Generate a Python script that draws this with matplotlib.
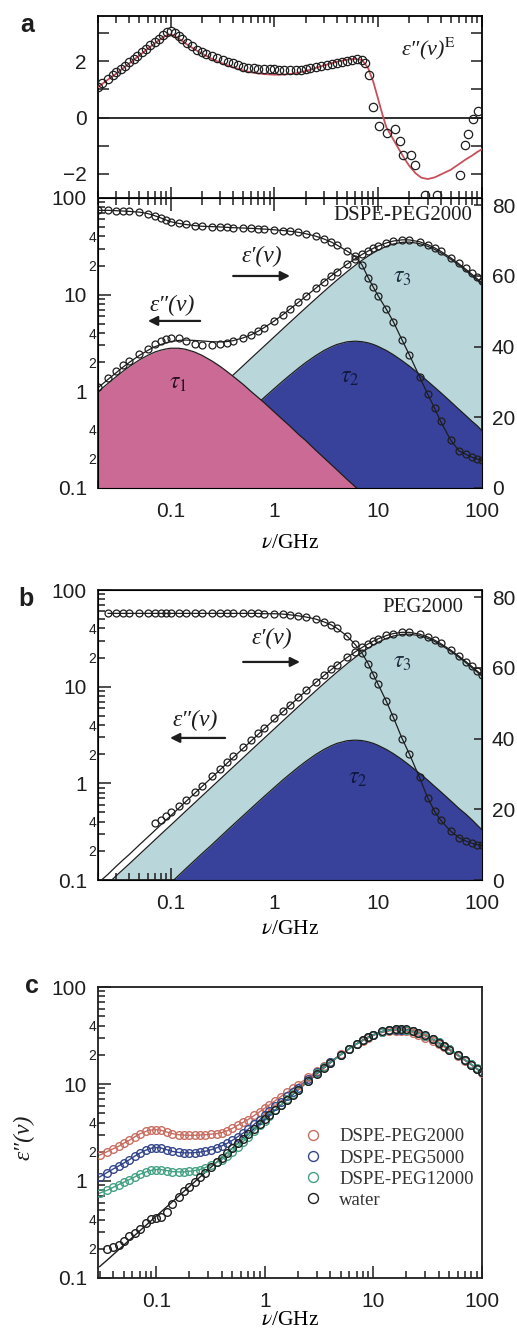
import numpy as np
import matplotlib
matplotlib.use('Agg')
import matplotlib.pyplot as plt
from matplotlib.ticker import FixedLocator, FuncFormatter, NullFormatter, NullLocator

plt.rcParams['font.family'] = ['Liberation Sans', 'DejaVu Sans']
plt.rcParams['mathtext.fontset'] = 'stix'
SERIF = ['Liberation Serif', 'DejaVu Serif']

# ---------------- datos ----------------
# a (arriba): exceso de perdida dielectrica
nu_e = [0.02, 0.022, 0.025, 0.028, 0.03, 0.033, 0.036, 0.04, 0.044, 0.048,
        0.053, 0.058, 0.064, 0.07, 0.077, 0.085, 0.093, 0.1, 0.11, 0.12,
        0.13, 0.145, 0.16, 0.18, 0.2, 0.22, 0.25, 0.28, 0.32, 0.36,
        0.4, 0.45, 0.5, 0.56, 0.63, 0.7, 0.8, 0.9, 1.0, 1.1,
        1.25, 1.4, 1.6, 1.8, 2.0, 2.2, 2.5, 2.8, 3.2, 3.6,
        4.0, 4.5, 5.0, 5.6, 6.3, 7.0, 7.5, 8.1, 9.0, 10.1,
        12.1, 14.6, 16.2, 17.4, 20.9, 22.7, 28.3, 36.6, 61, 68.7,
        73.8, 82.6, 92.2]
eps_e = [1.10, 1.22, 1.38, 1.52, 1.61, 1.73, 1.84, 1.97, 2.09, 2.20,
         2.33, 2.44, 2.57, 2.68, 2.80, 2.93, 3.05, 3.06, 3.00, 2.90,
         2.80, 2.66, 2.52, 2.40, 2.32, 2.25, 2.18, 2.12, 2.05, 1.98,
         1.92, 1.86, 1.80, 1.76, 1.74, 1.73, 1.73, 1.72, 1.71, 1.70,
         1.69, 1.68, 1.68, 1.70, 1.72, 1.74, 1.78, 1.82, 1.86, 1.90,
         1.94, 1.98, 2.02, 2.04, 2.06, 2.04, 1.92, 1.50, 0.36, -0.30,
         -0.54, -0.42, -0.84, -1.31, -1.31, -1.68, -2.73, -2.73, -2.04, -0.96,
         -0.60, -0.06, 0.24]
nu_efit = [0.02, 0.025, 0.03, 0.04, 0.05, 0.06, 0.07, 0.08, 0.09, 0.1,
           0.12, 0.14, 0.17, 0.2, 0.25, 0.3, 0.4, 0.5, 0.6, 0.8,
           1.0, 1.3, 1.6, 2.0, 2.5, 3.0, 4.0, 5.0, 6.0, 7.0,
           8.0, 9.0, 10, 11, 12, 14, 16, 18, 20, 23,
           26, 30, 35, 40, 50, 60, 70, 80, 90, 100]
eps_efit = [1.08, 1.35, 1.56, 1.92, 2.20, 2.43, 2.62, 2.78, 2.90, 2.95,
            2.80, 2.62, 2.42, 2.27, 2.08, 1.95, 1.78, 1.67, 1.60, 1.54,
            1.52, 1.53, 1.57, 1.65, 1.76, 1.85, 1.98, 2.05, 2.08, 2.04,
            1.75, 1.25, 0.65, 0.10, -0.35, -0.78, -1.15, -1.47, -1.72, -1.98,
            -2.13, -2.18, -2.12, -2.02, -1.85, -1.65, -1.48, -1.35, -1.22, -1.12]

# a y b: frecuencias comunes
nu_ab = [0.02, 0.025, 0.03, 0.035, 0.04, 0.05, 0.06, 0.07, 0.08, 0.09,
         0.1, 0.12, 0.14, 0.17, 0.2, 0.25, 0.3, 0.35, 0.4, 0.5,
         0.6, 0.7, 0.8, 1.0, 1.2, 1.4, 1.7, 2.0, 2.5, 3.0,
         3.5, 4.0, 5.0, 6.0, 7.0, 8.0, 9.0, 10, 12, 14,
         17, 20, 25, 30, 35, 40, 50, 60, 70, 80,
         90, 100]

# a: DSPE-PEG2000
tau1_a = [0.99, 1.21, 1.42, 1.62, 1.80, 2.11, 2.35, 2.54, 2.66, 2.74,
          2.79, 2.79, 2.72, 2.55, 2.36, 2.06, 1.81, 1.60, 1.43, 1.18,
          0.99, 0.86, 0.76, 0.61, 0.51, 0.44, 0.36, 0.31, 0.246, 0.205,
          0.176, 0.154, 0.123, 0.103, 0.088, 0.077, 0.068, 0.062, 0.051, 0.044,
          0.036, 0.031, 0.025, 0.021, 0.018, 0.015, 0.012, 0.010, 0.009, 0.008,
          0.007, 0.006]
tau2_a = [0.022, 0.028, 0.033, 0.039, 0.044, 0.055, 0.066, 0.077, 0.088, 0.099,
          0.110, 0.132, 0.154, 0.187, 0.220, 0.274, 0.329, 0.384, 0.438, 0.546,
          0.653, 0.760, 0.865, 1.07, 1.27, 1.46, 1.73, 1.98, 2.34, 2.64,
          2.87, 3.05, 3.25, 3.30, 3.26, 3.17, 3.05, 2.91, 2.64, 2.39,
          2.07, 1.82, 1.50, 1.27, 1.10, 0.97, 0.78, 0.65, 0.56, 0.49,
          0.44, 0.39]
tau3_a = [0.074, 0.092, 0.111, 0.129, 0.147, 0.184, 0.221, 0.258, 0.295, 0.332,
          0.368, 0.442, 0.516, 0.626, 0.737, 0.921, 1.105, 1.289, 1.473, 1.84,
          2.21, 2.575, 2.94, 3.67, 4.40, 5.13, 6.21, 7.29, 9.05, 10.78,
          12.47, 14.11, 17.23, 20.10, 22.71, 25.03, 27.08, 28.85, 31.60, 33.43,
          34.78, 34.95, 33.72, 31.64, 29.35, 27.13, 23.24, 20.15, 17.70, 15.74,
          14.15, 12.84]
fit_a = [1.09, 1.33, 1.56, 1.79, 1.99, 2.35, 2.64, 2.88, 3.04, 3.17,
         3.27, 3.36, 3.39, 3.36, 3.32, 3.26, 3.24, 3.27, 3.34, 3.57,
         3.85, 4.20, 4.57, 5.35, 6.18, 7.03, 8.30, 9.58, 11.64, 13.63,
         15.52, 17.31, 20.60, 23.50, 26.06, 28.28, 30.20, 31.82, 34.29, 35.86,
         36.89, 36.80, 35.25, 32.93, 30.47, 28.12, 24.03, 20.81, 18.27, 16.24,
         14.60, 13.24]
eps2_a = [1.12, 1.38, 1.62, 1.85, 2.05, 2.42, 2.75, 3.05, 3.30, 3.50,
          3.60, 3.55, 3.30, 3.08, 3.00, 3.02, 3.08, 3.16, 3.28, 3.55,
          3.85, 4.20, 4.57, 5.35, 6.18, 7.03, 8.30, 9.58, 11.6, 13.6,
          15.5, 17.3, 20.6, 23.5, 26.1, 28.3, 30.2, 31.8, 34.3, 35.9,
          36.9, 36.8, 35.3, 32.9, 30.5, 28.1, 24.0, 21.2, 18.8, 16.8,
          15.2, 13.9]
eps1_a = [78.5, 78.5, 78.4, 78.3, 78.2, 78.0, 77.6, 77.0, 76.4, 75.8,
          75.3, 74.8, 74.5, 74.2, 74.0, 73.9, 73.8, 73.7, 73.6, 73.5,
          73.4, 73.3, 73.2, 73.0, 72.8, 72.6, 72.3, 71.9, 71.2, 70.4,
          69.6, 68.7, 67.0, 65.5, 63.0, 59.5, 56.7, 54.3, 50.5, 47.0,
          41.8, 37.6, 31.5, 26.5, 22.5, 18.8, 13.5, 10.5, 9.5, 8.7,
          8.2, 7.9]

# b: PEG2000
tau2_b = [0.019, 0.023, 0.028, 0.033, 0.037, 0.047, 0.056, 0.065, 0.075, 0.084,
          0.093, 0.112, 0.131, 0.159, 0.187, 0.232, 0.279, 0.326, 0.372, 0.463,
          0.554, 0.645, 0.734, 0.908, 1.08, 1.24, 1.47, 1.68, 1.99, 2.24,
          2.44, 2.59, 2.76, 2.80, 2.77, 2.69, 2.59, 2.47, 2.24, 2.03,
          1.76, 1.54, 1.27, 1.08, 0.93, 0.82, 0.66, 0.55, 0.48, 0.42,
          0.37, 0.33]
tau3_b = [0.074, 0.092, 0.111, 0.129, 0.147, 0.184, 0.221, 0.258, 0.295, 0.332,
          0.368, 0.442, 0.516, 0.626, 0.737, 0.921, 1.105, 1.289, 1.473, 1.84,
          2.21, 2.575, 2.94, 3.67, 4.40, 5.13, 6.21, 7.29, 9.05, 10.78,
          12.47, 14.11, 17.23, 20.10, 22.71, 25.03, 27.08, 28.85, 31.60, 33.43,
          34.78, 34.95, 33.72, 31.64, 29.35, 27.13, 23.24, 20.15, 17.70, 15.74,
          14.15, 12.84]
fit_b = [0.093, 0.115, 0.139, 0.162, 0.184, 0.231, 0.277, 0.323, 0.370, 0.416,
         0.461, 0.554, 0.647, 0.785, 0.924, 1.153, 1.384, 1.615, 1.845, 2.30,
         2.76, 3.22, 3.68, 4.58, 5.48, 6.37, 7.68, 8.97, 11.04, 13.02,
         14.91, 16.70, 19.99, 22.90, 25.48, 27.72, 29.67, 31.32, 33.84, 35.46,
         36.54, 36.49, 34.99, 32.72, 30.28, 27.95, 23.90, 20.70, 18.18, 16.16,
         14.52, 13.17]
nu_b2 = nu_ab[7:]
eps2_b = [0.39, 0.42, 0.46, 0.51, 0.59, 0.68, 0.81, 0.95, 1.18, 1.42,
          1.66, 1.90, 2.37, 2.84, 3.31, 3.78, 4.70, 5.62, 6.52, 7.85,
          9.15, 11.2, 13.2, 15.1, 16.9, 20.2, 23.1, 25.7, 27.9, 29.8,
          31.4, 33.9, 35.5, 36.6, 36.5, 35.0, 32.7, 30.3, 28.0, 23.9,
          20.7, 18.2, 16.2, 14.5, 13.2]
nu_b1 = nu_ab[1:]
eps1_b = [75.4, 75.4, 75.4, 75.4, 75.4, 75.4, 75.4, 75.4, 75.4, 75.4,
          75.4, 75.4, 75.4, 75.4, 75.4, 75.4, 75.4, 75.4, 75.4, 75.4,
          75.4, 75.3, 75.3, 75.2, 75.0, 74.7, 74.4, 73.8, 73.0, 72.2,
          71.2, 69.0, 66.6, 64.1, 61.2, 58.0, 55.3, 50.5, 46.0, 40.0,
          35.6, 29.0, 23.2, 19.4, 16.9, 13.8, 12.0, 11.0, 10.4, 10.0,
          9.8]

# c: comparacion
nu_c = [0.03, 0.035, 0.04, 0.045, 0.05, 0.056, 0.063, 0.07, 0.08, 0.09,
        0.1, 0.11, 0.125, 0.14, 0.16, 0.18, 0.2, 0.225, 0.25, 0.28,
        0.32, 0.36, 0.4, 0.45, 0.5, 0.56, 0.63, 0.7, 0.8, 0.9,
        1.0, 1.1, 1.25, 1.4, 1.6, 1.8, 2.0, 2.5, 3.0, 3.5,
        4.0, 5.0, 6.0, 7.0, 8.0, 9.0, 10, 12, 14, 16,
        18, 20, 23, 26, 30, 35, 40, 45, 50, 60,
        70, 80, 90, 100]
peg2000_c = [1.85, 2.00, 2.15, 2.28, 2.45, 2.62, 2.85, 3.05, 3.25, 3.36,
             3.38, 3.34, 3.20, 3.08, 3.00, 2.97, 2.96, 2.96, 2.98, 3.00,
             3.04, 3.08, 3.15, 3.30, 3.48, 3.75, 4.02, 4.30, 4.75, 5.20,
             5.65, 6.10, 6.75, 7.40, 8.20, 9.00, 9.80, 11.7, 13.6, 15.3,
             17.0, 20.2, 23.2, 25.9, 28.0, 30.0, 31.8, 34.0, 35.2, 35.6,
             35.5, 35.0, 33.8, 32.0, 29.8, 27.8, 25.8, 24.0, 22.3, 19.5,
             17.4, 15.6, 14.2, 13.0]
peg5000_c = [1.10, 1.22, 1.33, 1.43, 1.53, 1.65, 1.80, 1.93, 2.08, 2.18,
             2.21, 2.19, 2.10, 2.02, 1.97, 1.95, 1.95, 1.96, 1.98, 2.02,
             2.10, 2.20, 2.30, 2.45, 2.62, 2.85, 3.12, 3.42, 3.85, 4.30,
             4.78, 5.25, 5.95, 6.60, 7.45, 8.30, 9.15, 11.2, 13.2, 15.0,
             16.8, 20.1, 23.2, 25.9, 28.2, 30.3, 32.0, 34.4, 35.8, 36.4,
             36.4, 36.0, 34.9, 33.5, 31.5, 29.0, 26.8, 24.8, 23.0, 20.0,
             17.7, 15.9, 14.4, 13.2]
peg12000_c = [0.75, 0.80, 0.86, 0.92, 0.97, 1.03, 1.10, 1.17, 1.24, 1.29,
              1.31, 1.31, 1.28, 1.25, 1.24, 1.24, 1.26, 1.28, 1.31, 1.37,
              1.46, 1.56, 1.66, 1.82, 2.00, 2.25, 2.55, 2.85, 3.30, 3.75,
              4.20, 4.65, 5.35, 6.05, 6.95, 7.85, 8.70, 10.8, 12.9, 14.8,
              16.6, 20.0, 23.2, 25.9, 28.2, 30.4, 32.1, 34.5, 35.9, 36.5,
              36.5, 36.1, 35.0, 33.6, 31.6, 29.1, 26.9, 24.9, 23.1, 20.1,
              17.8, 16.0, 14.5, 13.3]
nu_w = nu_c[1:]
water_c = [0.20, 0.21, 0.22, 0.24, 0.27, 0.29, 0.32, 0.37, 0.41,
           0.42, 0.43, 0.48, 0.58, 0.68, 0.78, 0.87, 0.98, 1.09, 1.22,
           1.39, 1.57, 1.74, 1.96, 2.18, 2.44, 2.73, 3.04, 3.47, 3.91,
           4.34, 4.77, 5.41, 6.05, 6.90, 7.75, 8.59, 10.65, 12.66, 14.62,
           16.50, 20.03, 23.22, 26.05, 28.51, 30.60, 32.34, 34.86, 36.31, 36.93,
           36.94, 36.51, 35.37, 33.89, 31.74, 29.08, 26.64, 24.46, 22.55, 19.9,
           17.6, 15.8, 14.3, 13.2]
water_fit = [0.131, 0.152, 0.174, 0.196, 0.218, 0.244, 0.274, 0.305, 0.348, 0.392,
             0.435, 0.479, 0.544, 0.609, 0.696, 0.783, 0.870, 0.979, 1.088, 1.219,
             1.393, 1.567, 1.741, 1.958, 2.175, 2.436, 2.734, 3.042, 3.474, 3.907,
             4.338, 4.768, 5.412, 6.053, 6.904, 7.748, 8.587, 10.65, 12.66, 14.62,
             16.50, 20.03, 23.22, 26.05, 28.51, 30.60, 32.34, 34.86, 36.31, 36.93,
             36.94, 36.51, 35.37, 33.89, 31.74, 29.08, 26.64, 24.46, 22.55, 19.9,
             17.6, 15.8, 14.3, 13.2]
series_c = ['DSPE-PEG2000', 'DSPE-PEG5000', 'DSPE-PEG12000', 'water']

# ---------------- estilo ----------------
PINK = '#cb6b95'
LIGHT = '#b9d6db'
DARK = '#38429a'
INK = '#1e1e1e'
col_c = ['#c86e62', '#34468c', '#44a282', INK]

EPS1 = '\u03b5\u2032(\u03bd)'
EPS2 = '\u03b5\u2033(\u03bd)'
ital = dict(family=SERIF, style='italic', color=INK)

fig = plt.figure(figsize=(5.17, 13.34), dpi=100)

minor_pos = [m * 10.0 ** e for e in range(-2, 2) for m in range(2, 10)]


def minor_lab(v, pos):
    m = int(round(v / 10 ** np.floor(np.log10(v) + 1e-9)))
    return str(m) if m in (2, 4) else ''


def log_ejes(ax, xmin, top=False):
    ax.set_xscale('log')
    ax.set_yscale('log')
    ax.set_xlim(xmin, 100)
    ax.set_ylim(0.1, 100)
    ax.xaxis.set_major_locator(FixedLocator([0.1, 1, 10, 100]))
    ax.xaxis.set_minor_locator(FixedLocator(minor_pos))
    ax.xaxis.set_major_formatter(FuncFormatter(lambda v, p: '%g' % v))
    ax.xaxis.set_minor_formatter(NullFormatter())
    ax.yaxis.set_major_locator(FixedLocator([0.1, 1, 10, 100]))
    ax.yaxis.set_minor_locator(FixedLocator(minor_pos))
    ax.yaxis.set_major_formatter(FuncFormatter(lambda v, p: '%g' % v))
    ax.yaxis.set_minor_formatter(FuncFormatter(minor_lab))
    ax.tick_params(which='both', direction='in', top=top, right=False,
                   colors=INK, width=1.1)
    ax.tick_params(which='major', length=9, labelsize=15)
    ax.tick_params(which='minor', length=5)
    ax.tick_params(axis='x', which='major', pad=10)
    ax.tick_params(axis='y', which='major', pad=8)
    ax.tick_params(axis='y', which='minor', labelsize=10, pad=1.5)
    for s in ax.spines.values():
        s.set_linewidth(1.3)
        s.set_color(INK)


def eje_derecho(ax):
    ax2 = ax.twinx()
    ax2.set_ylim(0, 82)
    ax2.set_yticks([0, 20, 40, 60, 80])
    ax2.yaxis.set_minor_locator(NullLocator())
    ax2.tick_params(direction='in', length=6, width=1.1, labelsize=15, pad=7,
                    colors=INK)
    return ax2


def flecha(ax, x0, x1, y):
    ax.annotate('', xy=(x1, y), xytext=(x0, y), xycoords='axes fraction',
                arrowprops=dict(arrowstyle='-|>', color=INK, lw=1.6,
                                mutation_scale=14, shrinkA=0, shrinkB=0))


mk = dict(ls='none', marker='o', mfc='none', mec=INK, ms=5, mew=0.9)
L, W = 0.1896, 0.7427

# ---------------- a (arriba) ----------------
ax0 = fig.add_axes([L, 0.8516, W, 0.1364])
ax0.set_xscale('log')
ax0.set_xlim(0.02, 100)
ax0.set_ylim(-2.85, 3.6)
ax0.axhline(0, color=INK, lw=1.3)
ax0.plot(nu_efit, eps_efit, color='#c8505a', lw=1.3, zorder=3)
ax0.plot(nu_e, eps_e, zorder=4, **dict(mk, ms=6))
ax0.set_yticks([-2, -1, 0, 1, 2, 3])
ax0.set_yticklabels(['\u22122', '', '0', '', '2', ''])
ax0.xaxis.set_major_locator(FixedLocator([0.1, 1, 10, 100]))
ax0.xaxis.set_minor_locator(FixedLocator(minor_pos))
ax0.xaxis.set_major_formatter(NullFormatter())
ax0.xaxis.set_minor_formatter(NullFormatter())
ax0.tick_params(which='both', direction='in', top=True, right=True,
                colors=INK, width=1.1, labelsize=15, pad=8)
ax0.tick_params(which='major', length=8)
ax0.tick_params(which='minor', length=5)
for s in ax0.spines.values():
    s.set_linewidth(1.3)
ax0.text(0.86, 0.82, EPS2 + r'$^{\mathrm{E}}$', transform=ax0.transAxes,
         ha='center', va='center', fontsize=16, **ital)

# ---------------- a (abajo) ----------------
ax1 = fig.add_axes([L, 0.6342, W, 0.2174])
log_ejes(ax1, 0.02, top=True)
ax1.fill_between(nu_ab, 1e-3, tau3_a, color=LIGHT, lw=0, zorder=1)
ax1.plot(nu_ab, tau3_a, color=INK, lw=0.9, zorder=2)
ax1.fill_between(nu_ab, 1e-3, tau2_a, color=DARK, lw=0, zorder=3)
ax1.plot(nu_ab, tau2_a, color=INK, lw=0.9, zorder=4)
ax1.fill_between(nu_ab, 1e-3, tau1_a, color=PINK, lw=0, zorder=5)
ax1.plot(nu_ab, tau1_a, color=INK, lw=0.9, zorder=6)
ax1.plot(nu_ab, fit_a, color=INK, lw=0.9, zorder=7)
ax1.plot(nu_ab, eps2_a, zorder=8, **mk)
ax1b = eje_derecho(ax1)
ax1b.plot(nu_ab, eps1_a, color=INK, lw=0.9)
ax1b.plot(nu_ab, eps1_a, **mk)
ax1.set_xlabel(r'$\nu$/GHz', family=SERIF, fontsize=15.5)
ax1.xaxis.set_label_coords(0.5, -0.16)
ax1.text(0.974, 0.94, 'DSPE-PEG2000', transform=ax1.transAxes, ha='right',
         va='center', family=SERIF, fontsize=15, color=INK, zorder=10)
ax1.text(0.427, 0.797, EPS1, transform=ax1.transAxes,
         ha='center', va='center', fontsize=17, zorder=10, **ital)
flecha(ax1, 0.352, 0.50, 0.731)
ax1.text(0.193, 0.631, EPS2, transform=ax1.transAxes,
         ha='center', va='center', fontsize=17, zorder=10, **ital)
flecha(ax1, 0.266, 0.130, 0.576)
ax1.text(0.208, 0.362, r'$\tau_1$', transform=ax1.transAxes, ha='center',
         va='center', fontsize=17, color='#2a1020', zorder=10)
ax1.text(0.656, 0.383, r'$\tau_2$', transform=ax1.transAxes, ha='center',
         va='center', fontsize=17, color='#101840', zorder=10)
ax1.text(0.792, 0.728, r'$\tau_3$', transform=ax1.transAxes, ha='center',
         va='center', fontsize=17, color='#203040', zorder=10)

# ---------------- b ----------------
ax2 = fig.add_axes([L, 0.3403, W, 0.2174])
log_ejes(ax2, 0.02)
ax2.fill_between(nu_ab, 1e-3, tau3_b, color=LIGHT, lw=0, zorder=1)
ax2.plot(nu_ab, tau3_b, color=INK, lw=0.9, zorder=2)
ax2.fill_between(nu_ab, 1e-3, tau2_b, color=DARK, lw=0, zorder=3)
ax2.plot(nu_ab, tau2_b, color=INK, lw=0.9, zorder=4)
ax2.plot(nu_ab, fit_b, color=INK, lw=0.9, zorder=7)
ax2.plot(nu_b2, eps2_b, zorder=8, **mk)
ax2b = eje_derecho(ax2)
ax2b.plot(nu_b1, eps1_b, color=INK, lw=0.9)
ax2b.plot(nu_b1, eps1_b, **mk)
ax2.set_xlabel(r'$\nu$/GHz', family=SERIF, fontsize=15.5)
ax2.xaxis.set_label_coords(0.5, -0.138)
ax2.text(0.951, 0.94, 'PEG2000', transform=ax2.transAxes, ha='right',
         va='center', family=SERIF, fontsize=15, color=INK, zorder=10)
ax2.text(0.453, 0.834, EPS1, transform=ax2.transAxes,
         ha='center', va='center', fontsize=17, zorder=10, **ital)
flecha(ax2, 0.378, 0.526, 0.752)
ax2.text(0.253, 0.552, EPS2, transform=ax2.transAxes,
         ha='center', va='center', fontsize=17, zorder=10, **ital)
flecha(ax2, 0.331, 0.1875, 0.49)
ax2.text(0.794, 0.752, r'$\tau_3$', transform=ax2.transAxes, ha='center',
         va='center', fontsize=17, color='#203040', zorder=10)
ax2.text(0.677, 0.352, r'$\tau_2$', transform=ax2.transAxes, ha='center',
         va='center', fontsize=17, color='#101840', zorder=10)

# ---------------- c ----------------
ax3 = fig.add_axes([L, 0.0420, W, 0.2181])
log_ejes(ax3, 0.029)
ax3.plot(nu_c, water_fit, color=INK, lw=1.0, zorder=2)
handles = []
for vals, nus, col in [(peg2000_c, nu_c, col_c[0]), (peg5000_c, nu_c, col_c[1]),
                       (peg12000_c, nu_c, col_c[2]), (water_c, nu_w, col_c[3])]:
    if vals is not water_c:
        ax3.plot(nus, vals, color=col, lw=1.0, zorder=3)
    h, = ax3.plot(nus, vals, ls='none', marker='o', mfc='none', mec=col,
                  ms=5.5, mew=1.0, zorder=4)
    handles.append(h)
ax3.legend(handles, series_c, loc='upper left', bbox_to_anchor=(0.535, 0.515),
           frameon=False, prop={'family': SERIF, 'size': 13.5},
           handlelength=1.0, handletextpad=0.9, labelspacing=0.22,
           borderaxespad=0, borderpad=0, markerscale=1.3, labelcolor='#333333')
ax3.set_xlabel(r'$\nu$/GHz', family=SERIF, fontsize=15.5)
ax3.xaxis.set_label_coords(0.5, -0.115)
ax3.set_ylabel(EPS2, fontsize=17, **ital)
ax3.yaxis.set_label_coords(-0.165, 0.485)

# letras de panel
fig.text(0.039, 1 - 25 / 1334, 'a', fontsize=18, fontweight='bold', va='center', color=INK)
fig.text(0.036, 1 - 599 / 1334, 'b', fontsize=18, fontweight='bold', va='center', color=INK)
fig.text(0.048, 1 - 986 / 1334, 'c', fontsize=18, fontweight='bold', va='center', color=INK)

plt.savefig('out.png', dpi=100)
